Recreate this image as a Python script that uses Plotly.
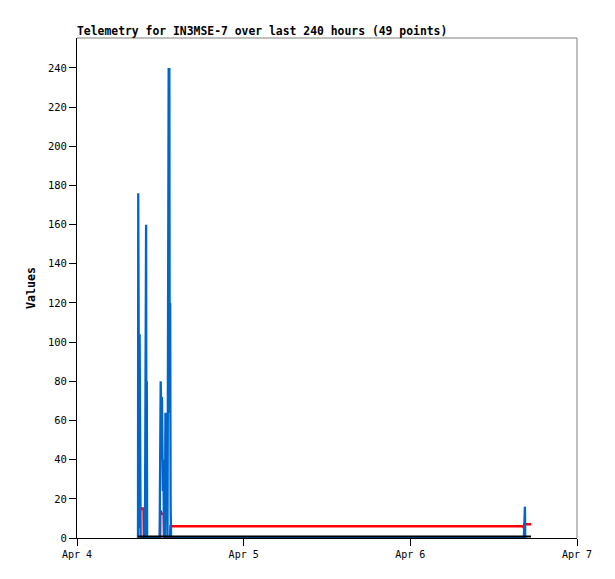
import plotly.graph_objects as go

# ---- data ----
blue_times = [
    "2024-04-04 08:47", "2024-04-04 08:49", "2024-04-04 08:51", "2024-04-04 08:53",
    "2024-04-04 08:55", "2024-04-04 08:57", "2024-04-04 08:59", "2024-04-04 09:01",
    "2024-04-04 09:04", "2024-04-04 09:07", "2024-04-04 09:10",
    "2024-04-04 09:47", "2024-04-04 09:50", "2024-04-04 09:53", "2024-04-04 09:57",
    "2024-04-04 10:00", "2024-04-04 10:03", "2024-04-04 10:06",
    "2024-04-04 11:54", "2024-04-04 11:57", "2024-04-04 12:00", "2024-04-04 12:03",
    "2024-04-04 12:06", "2024-04-04 12:10", "2024-04-04 12:14", "2024-04-04 12:18",
    "2024-04-04 12:22", "2024-04-04 12:26", "2024-04-04 12:29", "2024-04-04 12:32",
    "2024-04-04 12:40", "2024-04-04 12:44", "2024-04-04 12:48", "2024-04-04 12:52",
    "2024-04-04 13:02", "2024-04-04 13:06", "2024-04-04 13:09", "2024-04-04 13:12",
    "2024-04-04 13:15", "2024-04-04 13:18", "2024-04-04 13:21", "2024-04-04 13:25",
    "2024-04-04 13:29", "2024-04-04 13:33",
    "2024-04-06 16:21", "2024-04-06 16:24", "2024-04-06 16:27", "2024-04-06 16:30",
    "2024-04-06 16:33",
]
blue_values = [
    0, 176, 27, 104, 16, 27, 5, 104, 8, 15, 0,
    0, 80, 15, 160, 0, 80, 0,
    0, 80, 40, 80, 72, 40, 72, 56, 24, 40, 12, 0,
    0, 64, 24, 64,
    0, 184, 64, 240, 100, 240, 64, 120, 16, 0,
    0, 16, 5, 16, 0,
]

red_times = [
    "2024-04-04 08:50", "2024-04-04 08:52", "2024-04-04 09:05", "2024-04-04 09:08",
    "2024-04-04 09:35", "2024-04-04 09:38", "2024-04-04 11:58", "2024-04-04 12:00",
    "2024-04-04 12:10", "2024-04-04 12:30", "2024-04-04 12:33", "2024-04-04 13:25",
    "2024-04-04 13:28", "2024-04-06 16:15", "2024-04-06 16:20", "2024-04-06 16:25",
    "2024-04-06 17:23",
]
red_values = [11, 14, 14, 15, 15, 0, 0, 14, 12.5, 12, 0, 0, 6, 6, 5, 7, 7]

black_times = ["2024-04-04 08:45", "2024-04-06 17:23"]
black_values = [0.8, 0.8]

x_tick_vals = ["2024-04-04", "2024-04-05", "2024-04-06", "2024-04-07"]
x_tick_text = ["Apr 4", "Apr 5", "Apr 6", "Apr 7"]
y_tick_vals = list(range(0, 241, 20))

title_text = "Telemetry for IN3MSE-7 over last 240 hours (49 points)"
y_title = "Values"

# ---- figure ----
fig = go.Figure()
fig.add_trace(go.Scatter(x=red_times, y=red_values, mode="lines",
                         line=dict(color="#FF0000", width=2.5), showlegend=False))
fig.add_trace(go.Scatter(x=blue_times, y=blue_values, mode="lines",
                         line=dict(color="#0066CC", width=2.3), showlegend=False))
fig.add_trace(go.Scatter(x=black_times, y=black_values, mode="lines",
                         line=dict(color="#000000", width=2), showlegend=False))

mono = "DejaVu Sans Mono"
fig.update_layout(
    width=615, height=579,
    margin=dict(l=77, r=38, t=38, b=41),
    paper_bgcolor="white", plot_bgcolor="white",
    title=dict(text="<b>" + title_text + "</b>", x=0, xref="paper", xanchor="left",
               y=1 - 31 / 579, yref="container", yanchor="middle",
               font=dict(family=mono, size=11.4, color="black")),
    xaxis=dict(type="date", range=["2024-04-04", "2024-04-07"],
               tickvals=x_tick_vals, ticktext=x_tick_text,
               ticks="outside", ticklen=7, tickcolor="black", tickwidth=1,
               showline=True, linecolor="black", linewidth=1,
               showgrid=False, zeroline=False,
               tickfont=dict(family=mono, size=10, color="black")),
    yaxis=dict(range=[0, 255.3], tickvals=y_tick_vals,
               ticks="outside", ticklen=7, tickcolor="black", tickwidth=1,
               showline=True, linecolor="black", linewidth=1,
               showgrid=False, zeroline=False,
               title=dict(text="<b>" + y_title + "</b>", standoff=9,
                          font=dict(family=mono, size=11.6, color="black")),
               tickfont=dict(family=mono, size=10.5, color="black")),
    shapes=[
        dict(type="line", xref="paper", yref="paper", x0=0, x1=1, y0=1, y1=1,
             line=dict(color="#808080", width=1)),
        dict(type="line", xref="paper", yref="paper", x0=1, x1=1, y0=0, y1=1,
             line=dict(color="#808080", width=1)),
    ],
)

fig.write_html("out.html", config={"displayModeBar": False},
               post_script="document.body.style.margin='0px';")
